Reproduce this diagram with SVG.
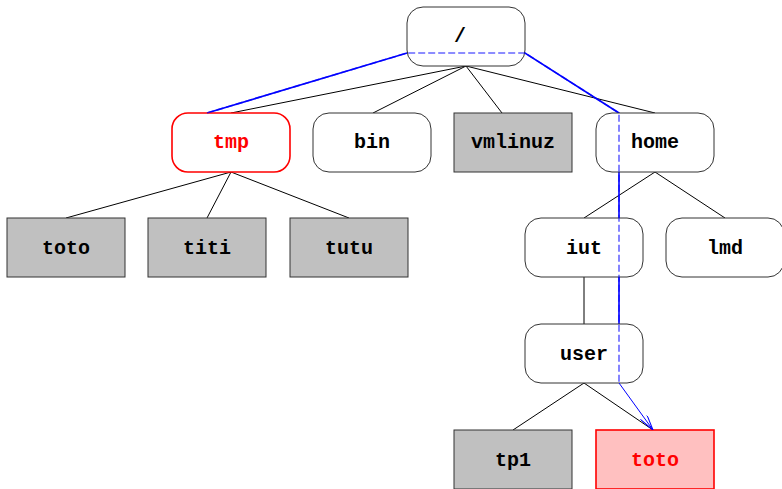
<svg xmlns="http://www.w3.org/2000/svg" width="782" height="489" viewBox="0 0 782 489">
<style>
.n rect{fill:#fff;stroke:#333;stroke-width:1}
.f rect{fill:#c0c0c0;stroke:#333;stroke-width:1}
.r rect{fill:#fff;stroke:#f00;stroke-width:1.6}
.p rect{fill:#ffc0c0;stroke:#f00;stroke-width:1.6}
text{font-family:"Liberation Mono","Courier New",monospace;font-weight:bold;font-size:20px;text-anchor:middle;fill:#000}
.r text,.p text{fill:#f00}
.c line{stroke:#000;stroke-width:1}
</style>
<defs>
<marker id="ah" viewBox="0 0 16 8" refX="16" refY="4" markerWidth="16" markerHeight="8" markerUnits="userSpaceOnUse" orient="auto">
<path d="M0,0 L16,4 L0,8" fill="none" stroke="#00f" stroke-width="1"/>
</marker>
</defs>
<g id="connectors" class="c">
<line x1="466" y1="66" x2="231" y2="113"/>
<line x1="466" y1="66" x2="373" y2="113"/>
<line x1="466" y1="66" x2="502" y2="113"/>
<line x1="466" y1="66" x2="655" y2="113"/>
<line x1="231" y1="172" x2="66" y2="218"/>
<line x1="231" y1="172" x2="207" y2="218"/>
<line x1="231" y1="172" x2="349" y2="218"/>
<line x1="655" y1="172" x2="584" y2="218"/>
<line x1="655" y1="172" x2="725" y2="218"/>
<line x1="584" y1="277" x2="584" y2="324"/>
<line x1="584" y1="383" x2="513" y2="430"/>
<line x1="584" y1="383" x2="653" y2="430"/>
<path id="path-under" d="M207,113 L407,53 L525,53 L619,113 L619,383" fill="none" stroke="#00f" stroke-width="1.6"/>
</g>
<g id="root" class="n"><rect x="407" y="7" width="118" height="59" rx="16"/><text x="460" y="42">/</text></g>
<g id="tmp" class="r"><rect x="172" y="113" width="118" height="59" rx="16"/><text x="231" y="148">tmp</text></g>
<g id="bin" class="n"><rect x="313" y="113" width="118" height="59" rx="16"/><text x="372" y="148">bin</text></g>
<g id="vmlinuz" class="f"><rect x="454" y="113" width="118" height="59"/><text x="513" y="148">vmlinuz</text></g>
<g id="home" class="n"><rect x="596" y="113" width="118" height="59" rx="16"/><text x="655" y="148">home</text></g>
<g id="toto1" class="f"><rect x="7" y="218" width="118" height="59"/><text x="66" y="254">toto</text></g>
<g id="titi" class="f"><rect x="148" y="218" width="118" height="59"/><text x="207" y="254">titi</text></g>
<g id="tutu" class="f"><rect x="290" y="218" width="118" height="59"/><text x="349" y="254">tutu</text></g>
<g id="iut" class="n"><rect x="525" y="218" width="118" height="59" rx="16"/><text x="584" y="254">iut</text></g>
<g id="lmd" class="n"><rect x="666" y="218" width="118" height="59" rx="16"/><text x="725" y="254">lmd</text></g>
<g id="user" class="n"><rect x="525" y="324" width="118" height="59" rx="16"/><text x="584" y="360">user</text></g>
<g id="tp1" class="f"><rect x="454" y="430" width="118" height="59"/><text x="513" y="466">tp1</text></g>
<g id="toto2" class="p"><rect x="596" y="430" width="118" height="59"/><text x="655" y="466">toto</text></g>
<g id="path-over">
<path d="M207,113 L407,53 L525,53 L619,113 L619,383" fill="none" stroke="#00f" stroke-opacity="0.6" stroke-width="1.6" stroke-dasharray="7,3"/>
<line x1="619" y1="383" x2="653" y2="430" stroke="#00f" stroke-width="1" marker-end="url(#ah)"/>
</g>
</svg>
